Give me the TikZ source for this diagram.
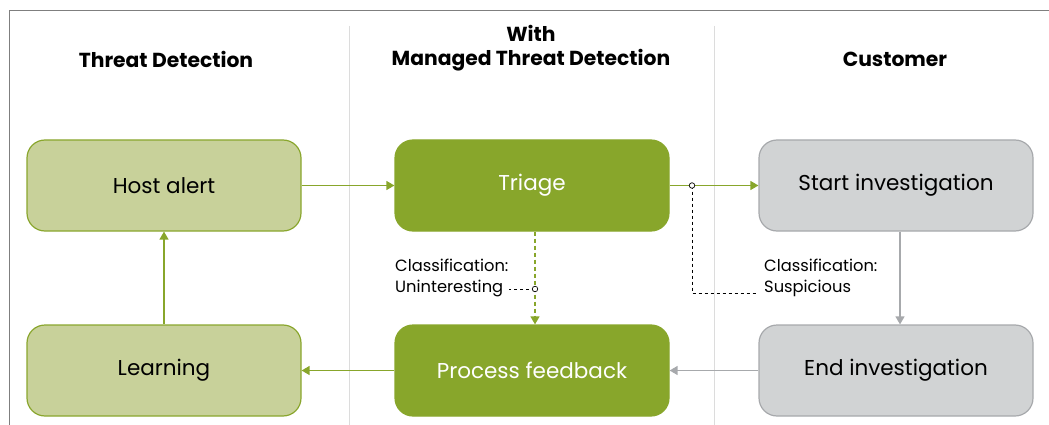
\documentclass[tikz,border=0pt]{standalone}
\usepackage{fontspec}
\setmainfont{Poppins}
\usetikzlibrary{arrows.meta,positioning}
\definecolor{greenDark}{HTML}{88A62B}
\definecolor{greenLight}{HTML}{C8D19A}
\definecolor{greenLine}{HTML}{8AA62E}
\definecolor{greyFill}{HTML}{D1D3D4}
\definecolor{greyLine}{HTML}{A7A9AC}
\definecolor{frameCol}{HTML}{7F7F7F}
\definecolor{divCol}{HTML}{DCDCDC}
\tikzset{
  box/.style={rounded corners=18pt, minimum width=274pt, minimum height=91pt,
    line width=1.2pt, font=\fontsize{21.5}{24}\selectfont, inner sep=0pt},
  lightbox/.style={box, fill=greenLight, draw=greenLine, text=black},
  darkbox/.style={box, fill=greenDark, draw=greenDark, text=white},
  greybox/.style={box, fill=greyFill, draw=greyLine, text=black},
  head/.style={font=\fontsize{20.3}{24}\selectfont\bfseries, align=center},
  lbl/.style={font=\fontsize{16.3}{21}\selectfont, align=left, anchor=north west, inner sep=0pt},
  garrow/.style={greenDark, line width=1.3pt, -{Triangle[width=9pt,length=8pt]}},
  gyarrow/.style={greyLine, line width=1.3pt, -{Triangle[width=9pt,length=8pt]}},
  hint/.style={black, line width=0.9pt, dash pattern=on 3pt off 3pt},
  junction/.style={circle, draw=black, fill=white, line width=0.7pt, minimum size=5.5pt, inner sep=0pt},
}
\begin{document}
\begin{tikzpicture}[x=1pt,y=-1pt]
\useasboundingbox (0,0) rectangle (1049,425);
% outer frame and column dividers
\draw[frameCol, line width=1pt] (9,425) -- (9,11) -- (1049,11);
\draw[divCol, line width=1pt] (349,26) -- (349,425);
\draw[divCol, line width=1pt] (714,26) -- (714,425);

% column headings
\node[head] (h1) at (166,59.5) {Threat Detection};
\node[head] (h2) at (531,48) {With\\Managed Threat Detection};
\node[head] (h3) at (895,59.5) {Customer};

% process boxes
\node[lightbox] (hostalert) at (164,185.5) {Host alert};
\node[darkbox]  (triage)    at (532,185.5) {Triage};
\node[greybox]  (startinv)  at (896,185.5) {Start investigation};
\node[lightbox] (learning)  at (164,370.5) {Learning};
\node[darkbox]  (feedback)  at (532,370.5) {Process feedback};
\node[greybox]  (endinv)    at (896,370.5) {End investigation};

% classification labels
\node[lbl] (lblU) at (395,258.5) {Classification:\\Uninteresting};
\node[lbl] (lblS) at (764,258.5) {Classification:\\Suspicious};

% main flow
\draw[garrow] (hostalert) -- (triage);
\draw[garrow] (triage) -- (startinv);
\draw[gyarrow] (startinv.south -| 900,0) -- (endinv.north -| 900,0);
\draw[gyarrow] (endinv) -- (feedback);
\draw[garrow] (feedback) -- (learning);
\draw[garrow] (learning) -- (hostalert);

% triage outcomes
\draw[garrow, dash pattern=on 4pt off 3pt] (triage.south -| 535,0) -- (feedback.north -| 535,0);
\coordinate (jU) at (535,289);
\coordinate (endU) at (509,289);
\draw[hint] (jU) -- (endU);
\node[junction] (cU) at (jU) {};

\coordinate (jS) at (692,185.5);
\coordinate (endS) at (757,293);
\draw[hint] (jS) |- (endS);
\node[junction] (cS) at (jS) {};
\end{tikzpicture}
\end{document}
